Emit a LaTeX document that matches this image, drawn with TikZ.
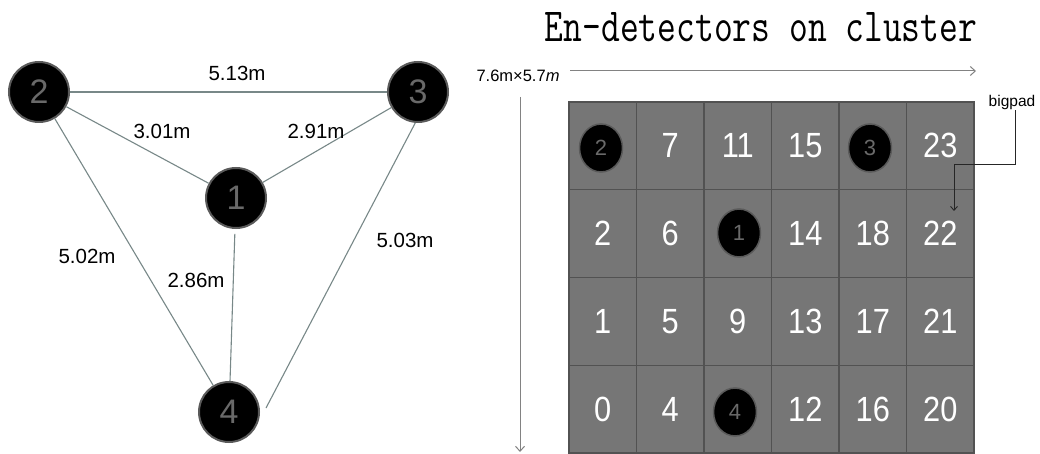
\documentclass[tikz,border=0pt]{standalone}
\usepackage{fontspec}
\setmainfont{Liberation Sans}
\usetikzlibrary{arrows.meta,shapes.geometric}
\definecolor{edgec}{RGB}{120,136,136}
\definecolor{cellc}{RGB}{118,118,118}
\definecolor{cellb}{RGB}{82,82,82}
\definecolor{detb}{RGB}{90,90,90}
\definecolor{dett}{RGB}{105,105,105}
\definecolor{axisc}{RGB}{130,130,130}
\tikzset{
  det/.style={circle, fill=black, draw=detb, line width=2pt, minimum size=60pt, inner sep=0pt,
    text=dett, font=\fontsize{34}{34}\selectfont},
  edge/.style={draw=edgec, line width=1.1pt},
  elabel/.style={font=\fontsize{20.5}{20.5}\selectfont, text=black},
  cell/.style={rectangle, fill=cellc, draw=cellb, line width=1.5pt, minimum width=67.5pt,
    minimum height=87.75pt, inner sep=0pt, text=white, font=\fontsize{35}{35}\selectfont},
  pad/.style={ellipse, fill=black, draw=detb, line width=1.5pt, minimum width=43pt,
    minimum height=48pt, inner sep=0pt, text=dett, font=\fontsize{22}{22}\selectfont},
  axis/.style={draw=axisc, line width=1pt, -{Straight Barb[length=5pt,width=9pt]}},
}
\newcommand{\narrow}[1]{\scalebox{0.88}[1]{#1}}
\begin{document}
\begin{tikzpicture}[x=1pt,y=-1pt]
\useasboundingbox (0,0) rectangle (1040,454);
\fill[white] (0,0) rectangle (1040,454);

% left graph
\node[det] (n2) at (39,92) {2};
\node[det] (n3) at (418,92) {3};
\node[det] (n1) at (236,198) {1};
\node[det] (n4) at (229,412) {4};
\coordinate (e34) at (266,408);
\draw[edge] (n2) -- (n3);
\draw[edge] (n2) -- (n1);
\draw[edge] (n3) -- (n1);
\draw[edge] (n2) -- (n4);
\draw[edge, shorten <=5pt] (n1) -- (n4);
\draw[edge] (n3.-95) -- (e34);
\node[elabel] (l513) at (237,73) {5.13m};
\node[elabel] (l301) at (162,131) {3.01m};
\node[elabel] (l291) at (316,131) {2.91m};
\node[elabel] (l502) at (87,256) {5.02m};
\node[elabel] (l286) at (196,280) {2.86m};
\node[elabel] (l503) at (405,240) {5.03m};

% title
\node[font=\ttfamily\fontsize{36.5}{36.5}\selectfont, yscale=1.3, inner sep=0pt] (title) at (761,27) {En-detectors on cluster};

% axes
\coordinate (hx0) at (570,71);
\coordinate (hx1) at (976,71);
\draw[axis] (hx0) -- (hx1);
\coordinate (vy0) at (520,97);
\coordinate (vy1) at (520,452);
\draw[axis] (vy0) -- (vy1);
\node[font=\fontsize{16.5}{16.5}\selectfont, inner sep=0pt] (dim) at (518,76) {7.6m×5.7\textit{m}};

% grid: column, row, label (empty where a detector sits)
\foreach \c/\a/\b/\d/\e in {0//2/1/0, 1/7/6/5/4, 2/11//9/, 3/15/14/13/12, 4//18/17/16, 5/23/22/21/20} {
  \node[cell] (c\c r0) at ({569+67.5*\c+33.75},{102+43.875}) {\narrow{\a}};
  \node[cell] (c\c r1) at ({569+67.5*\c+33.75},{102+87.75+43.875}) {\narrow{\b}};
  \node[cell] (c\c r2) at ({569+67.5*\c+33.75},{102+2*87.75+43.875}) {\narrow{\d}};
  \node[cell] (c\c r3) at ({569+67.5*\c+33.75},{102+3*87.75+43.875}) {\narrow{\e}};
}
\node[pad] (p2) at (601,148) {2};
\node[pad] (p3) at (870,148) {3};
\node[pad] (p1) at (739,233) {1};
\node[pad] (p4) at (735,412) {4};

% bigpad
\node[font=\fontsize{15.5}{15.5}\selectfont, inner sep=1pt] (bp) at (1012,102) {bigpad};
\coordinate (bpa) at (1015,164);
\coordinate (bpb) at (954,164);
\coordinate (bpc) at (954,211);
\draw[line width=0.9pt, draw=black!85, -{Straight Barb[length=4pt,width=7pt]}] (bp.south -| bpa) -- (bpa) -- (bpb) -- (bpc);
\end{tikzpicture}
\end{document}
